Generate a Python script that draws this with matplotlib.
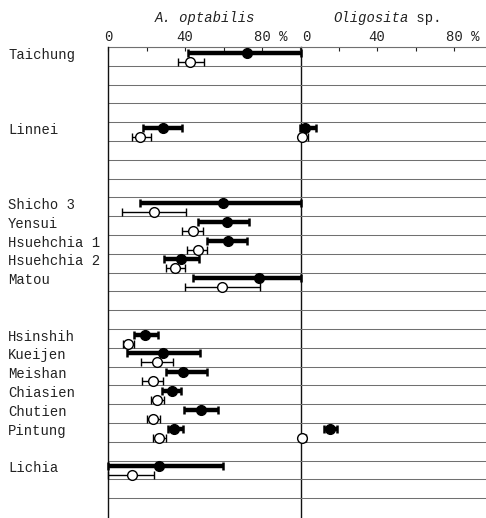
import numpy as np
import matplotlib
matplotlib.use("Agg")
import matplotlib.pyplot as plt
from matplotlib.transforms import blended_transform_factory, ScaledTranslation

# ---- data ----
localities = ["Taichung", "Linnei", "Shicho 3", "Yensui", "Hsuehchia 1", "Hsuehchia 2",
              "Matou", "Hsinshih", "Kueijen", "Meishan", "Chiasien", "Chutien",
              "Pintung", "Lichia"]
rows = [0, 4, 8, 9, 10, 11, 12, 15, 16, 17, 18, 19, 20, 22]

# A. optabilis (left panel)
a_fill_mean = [72.2, 28.6, 59.9, 61.6, 62.5, 37.9, 78.6, 19.2, 28.7, 39.2, 33.1, 48.1, 34.3, 26.7]
a_fill_lo   = [41.6, 18.2, 16.6, 46.9, 51.6, 29.1, 43.9, 13.5, 9.7, 29.9, 28.2, 39.6, 31.3, 0.0]
a_fill_hi   = [100.0, 38.4, 100.0, 73.4, 72.4, 47.1, 100.0, 25.8, 47.8, 51.6, 37.9, 57.0, 38.8, 59.9]
a_open_mean = [42.6, 16.6, 24.0, 43.9, 46.8, 34.8, 59.2, 10.6, 25.6, 23.2, 25.6, 23.2, 26.7, 12.3]
a_open_lo   = [36.4, 12.6, 7.1, 38.2, 40.8, 30.0, 40.0, 7.6, 16.9, 17.5, 22.3, 20.1, 23.2, 0.2]
a_open_hi   = [49.9, 22.3, 40.3, 49.2, 51.6, 40.2, 78.9, 13.6, 34.0, 28.7, 29.2, 27.0, 29.9, 23.9]

# Oligosita sp. (right panel) - only Linnei and Pintung
o_localities = ["Linnei", "Pintung"]
o_fill_mean = [2.6, 15.6]
o_fill_lo   = [0.0, 12.5]
o_fill_hi   = [8.3, 19.2]
o_open_mean = [1.2, 0.8]
o_open_lo   = [0.0, 0.0]
o_open_hi   = [4.2, 3.0]

ticks_major = [0, 40, 80]
tick_labels = ["0", "40", "80 %"]
ticks_minor = [20, 60]
n_lines = 25

# ---- figure ----
W, H = 486, 518
fig = plt.figure(figsize=(W / 100, H / 100), dpi=100)
plt.rcParams['font.family'] = ['Liberation Mono', 'DejaVu Sans Mono']

px = 1.925  # pixels per percent
top_px = 47
ax_h = (H - top_px) / H
ax1 = fig.add_axes([108 / W, 0, (100 * px) / W, ax_h])
ax2 = fig.add_axes([300 / W, 0, (W - 300) / W, ax_h])

ymax = (H - top_px) / 18.8
txtcol = "#222222"
linecol = "#707070"

for ax, xmax in ((ax1, 100), (ax2, (W - 300) / px)):
    ax.set_xlim(0, xmax)
    ax.set_ylim(ymax, 0)
    ax.hlines(np.arange(0, n_lines), 0, xmax, color=linecol, lw=0.75, zorder=1)
    ax.xaxis.tick_top()
    ax.set_xticks(ticks_major)
    ax.set_xticks(ticks_minor, minor=True)
    ax.set_xticklabels(tick_labels, fontsize=10, color=txtcol)
    ax.tick_params(axis='x', which='both', direction='in', length=3, width=0.8,
                   pad=2, colors=txtcol)
    # keep "80" centred on its tick, with "%" trailing
    lab = ax.get_xticklabels()[-1]
    lab.set_horizontalalignment('left')
    lab.set_transform(lab.get_transform() + ScaledTranslation(-8.5 / 100, 0, fig.dpi_scale_trans))
    ax.set_yticks([])
    ax.spines['bottom'].set_visible(False)
    ax.spines['top'].set_color(linecol)
    ax.spines['top'].set_linewidth(0.8)
    for s in ('left', 'right'):
        ax.spines[s].set_color("#111111")
        ax.spines[s].set_linewidth(1.0)
        ax.spines[s].set_zorder(4)
    ax.set_facecolor("none")
ax2.spines['right'].set_visible(False)
ax2.spines['left'].set_visible(False)
# right panel "0" sits just right of the dividing line
lab0 = ax2.get_xticklabels()[0]
lab0.set_transform(lab0.get_transform() + ScaledTranslation(6 / 100, 0, fig.dpi_scale_trans))

y_fill_off = 0.3
y_open_off = 0.78


def draw(ax, yrows, fm, flo, fhi, om, olo, ohi):
    yr = np.asarray(yrows, dtype=float)
    fm, flo, fhi = map(np.asarray, (fm, flo, fhi))
    om, olo, ohi = map(np.asarray, (om, olo, ohi))
    ax.errorbar(fm, yr + y_fill_off, xerr=[fm - flo, fhi - fm], fmt='o',
                color='black', ms=7, elinewidth=3.2, capsize=3, capthick=1.8,
                zorder=5, clip_on=False)
    ax.errorbar(om, yr + y_open_off, xerr=[om - olo, ohi - om], fmt='o',
                color='black', mfc='white', mec='black', mew=1.0, ms=7,
                elinewidth=1.0, capsize=3, capthick=1.0, zorder=5, clip_on=False)


draw(ax1, rows, a_fill_mean, a_fill_lo, a_fill_hi, a_open_mean, a_open_lo, a_open_hi)
o_rows = [rows[localities.index(n)] for n in o_localities]
draw(ax2, o_rows, o_fill_mean, o_fill_lo, o_fill_hi, o_open_mean, o_open_lo, o_open_hi)

# row labels
lt = blended_transform_factory(fig.transFigure, ax1.transData)
for name, r in zip(localities, rows):
    ax1.text(8 / W, r + 0.4, name, transform=lt, fontsize=10, ha='left',
             va='center', color=txtcol)

# panel titles
ty = 1 - 18 / H
fig.text(205 / W, ty, "A. optabilis", fontsize=10, style='italic',
         ha='center', va='center', color=txtcol)
fig.text(333 / W, ty, "Oligosita", fontsize=10, style='italic',
         ha='left', va='center', color=txtcol)
fig.text((333 + 9 * 8.33) / W, ty, " sp.", fontsize=10,
         ha='left', va='center', color=txtcol)

fig.savefig("out.png", dpi=100, facecolor='white')
